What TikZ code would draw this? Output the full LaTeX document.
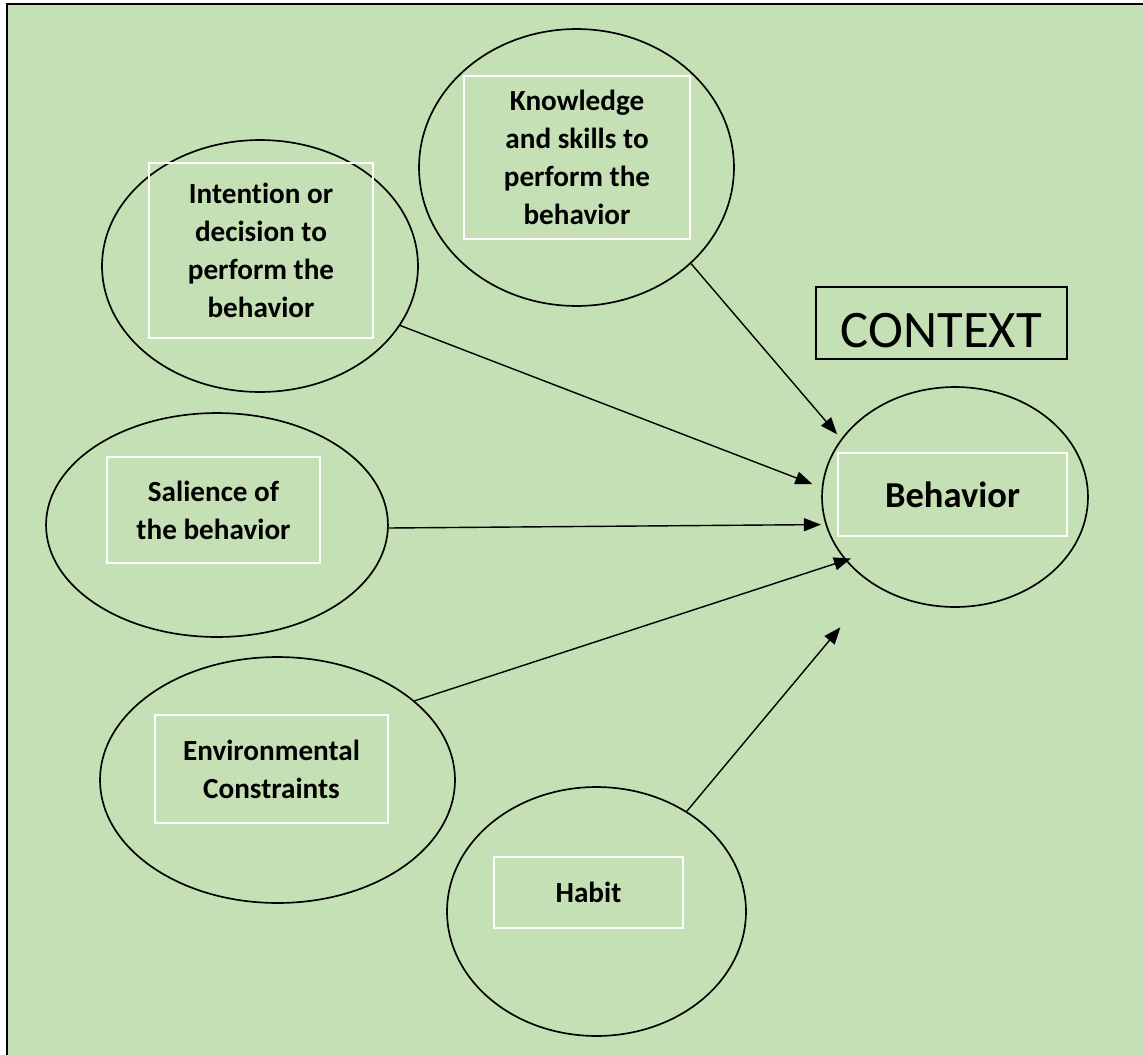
\documentclass[tikz,border=0pt]{standalone}
\usepackage{fontspec}
\setmainfont{Carlito}[Ligatures={NoCommon}]
\usetikzlibrary{shapes.geometric,arrows.meta}
\definecolor{bg}{HTML}{C5E0B4}
\begin{document}
\begin{tikzpicture}[x=0.02cm,y=-0.02cm,
  oval/.style={ellipse,draw=black,line width=0.95pt,inner sep=0pt},
  wbox/.style={rectangle,draw=white,line width=0.9pt,inner sep=0pt,align=center,
    font=\bfseries\fontsize{16.6}{21.6}\selectfont},
  arr/.style={line width=0.8pt,-{Triangle[length=0.34cm,width=0.26cm]}}]
\useasboundingbox (0,0) rectangle (1143,1055);
\fill[white] (0,0) rectangle (1143,1055);
\fill[bg] (7,4.3) rectangle (1143,1055);
\draw[line width=1.2pt] (7,1055) -- (7,4.3) -- (1143,4.3);

% ellipses
\node[oval,minimum width=6.32cm,minimum height=5.04cm] (intE) at (260,266) {};
\node[oval,minimum width=6.3cm,minimum height=5.54cm] (knoE) at (576.5,167.5) {};
\node[oval,minimum width=6.84cm,minimum height=4.48cm] (salE) at (217,525) {};
\node[oval,minimum width=7.1cm,minimum height=4.92cm] (envE) at (277.5,780) {};
\node[oval,minimum width=5.98cm,minimum height=4.98cm] (habE) at (596.5,911.5) {};
\node[oval,minimum width=5.32cm,minimum height=4.4cm] (behE) at (955,497) {};

% white boxes with labels
\node[wbox,minimum width=4.48cm,minimum height=3.5cm] (int) at (261,250.5)
  {Intention or\\decision to\\perform the\\behavior};
\node[wbox,minimum width=4.52cm,minimum height=3.26cm] (kno) at (577,157.5)
  {Knowledge\\and skills to\\perform the\\behavior};
\node[wbox,minimum width=4.26cm,minimum height=2.12cm] (sal) at (213.5,510)
  {Salience of\\the behavior};
\node[wbox,minimum width=4.66cm,minimum height=2.16cm] (env) at (271.5,769)
  {Environmental\\Constraints};
\node[wbox,minimum width=3.78cm,minimum height=1.42cm] (hab) at (588.5,892.5)
  {Habit};
\node[wbox,minimum width=4.58cm,minimum height=1.66cm,
  font=\bfseries\fontsize{20.8}{25}\selectfont] (beh) at (952.5,494.5) {Behavior};

% context label
\node[draw=black,line width=0.9pt,inner sep=0pt,minimum width=5.02cm,minimum height=1.44cm,
  text height=28.4pt,text depth=0pt,font=\fontsize{30}{36}\selectfont] (ctx) at (941.5,323) {CONTEXT};

% arrows
\draw[arr,shorten >=0.2cm] (intE.-23.3) -- (behE.176.8);
\draw[arr,shorten >=0.12cm] (knoE.-40) -- (behE.153.2);
\draw[arr,shorten >=0.09cm] (salE.-1.3) -- (behE.192.3);
\draw[arr,shorten >=-0.12cm] (envE.30.2) -- (behE.210.6);
\draw[arr,shorten >=1.08cm] (habE.48.6) -- (behE.228.3);
\end{tikzpicture}
\end{document}
